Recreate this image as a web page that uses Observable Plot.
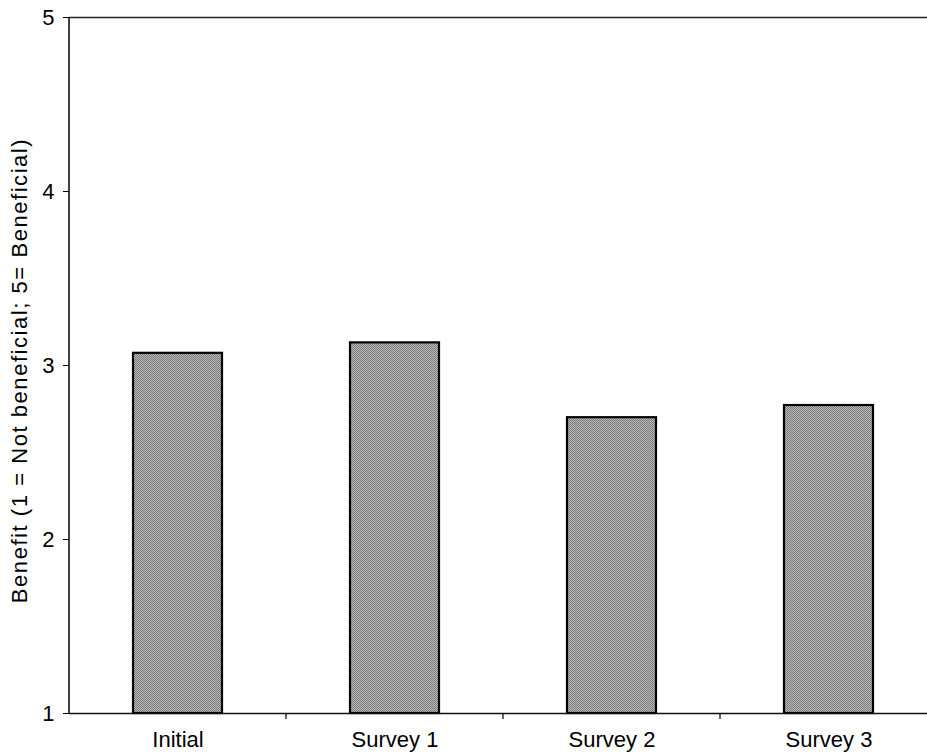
<!DOCTYPE html>
<html>
<head>
<meta charset="utf-8">
<script src="https://cdn.jsdelivr.net/npm/d3@7"></script>
<script src="https://cdn.jsdelivr.net/npm/@observablehq/plot@0.6"></script>
<style>
  html, body { margin: 0; padding: 0; background: #fff; overflow: hidden; }
  #chart { width: 927px; height: 755px; overflow: hidden; }
  #chart svg { max-width: none !important; height: 755px !important; font-family: "Liberation Sans", Arial, sans-serif; }
</style>
</head>
<body>
<div id="chart"></div>
<script>
const categories = ["Initial", "Survey 1", "Survey 2", "Survey 3"];
const benefit = [3.07, 3.13, 2.70, 2.77];
const yTicks = [1, 2, 3, 4, 5];
const yLabel = "Benefit (1 = Not beneficial; 5= Beneficial)";

const data = categories.map((c, i) => ({category: c, value: benefit[i]}));

const chart = Plot.plot({
  width: 937,
  height: 755,
  marginLeft: 69,
  marginRight: 0,
  marginTop: 17,
  marginBottom: 42,
  style: {background: "#fff", fontFamily: "Liberation Sans, Arial, sans-serif", color: "#000", maxWidth: "none"},
  x: {domain: categories, paddingInner: 0.59, paddingOuter: 0.295, label: null},
  y: {domain: [1, 5], label: null},
  marks: [
    Plot.barY(data, {x: "category", y1: 1, y2: "value", fill: "url(#halftone)", stroke: "#000", strokeWidth: 2.2}),
    Plot.ruleY([5], {stroke: "#222", strokeWidth: 1.5}),
    Plot.ruleY([1], {stroke: "#111", strokeWidth: 1.5}),
    Plot.axisY({ticks: yTicks, tickSize: 6, tickPadding: 9, fontSize: 22, label: null, tickFormat: d3.format("d")}),
    Plot.axisX({tickSize: 0, tickPadding: 18, fontSize: 22, label: null}),
    Plot.text([yLabel], {frameAnchor: "left", textAnchor: "middle", rotate: -90, dx: -50, dy: 5, fontSize: 22, text: d => d})
  ]
});

const svg = d3.select(chart);
svg.selectAll("text").filter(function() { return this.textContent === yLabel; }).style("letter-spacing", "1.55px");

// Halftone pattern definition
const defs = svg.insert("defs", ":first-child");
const pat = defs.append("pattern").attr("id", "halftone").attr("width", 2).attr("height", 2).attr("patternUnits", "userSpaceOnUse");
pat.append("rect").attr("width", 2).attr("height", 2).attr("fill", "#bababa");
pat.append("rect").attr("width", 1).attr("height", 1).attr("fill", "#7a7a7a");
pat.append("rect").attr("x", 1).attr("y", 1).attr("width", 1).attr("height", 1).attr("fill", "#7a7a7a");

// X tick marks at band boundaries, using the chart's own x scale
const xs = chart.scale("x");
const ys = chart.scale("y");
const step = xs.step;
const bandStart = c => xs.apply(c) - (step - xs.bandwidth) / 2;
const y1 = ys.apply(1);
categories.slice(1).forEach(c => {
  const bx = bandStart(c);
  svg.append("line").attr("x1", bx).attr("x2", bx).attr("y1", y1).attr("y2", y1 + 6).attr("stroke", "#111").attr("stroke-width", 1.3);
});
// Y axis line at left edge of the plot area
const x0 = bandStart(categories[0]);
svg.append("line").attr("x1", x0).attr("x2", x0).attr("y1", ys.apply(5)).attr("y2", y1).attr("stroke", "#111").attr("stroke-width", 1.6);

document.getElementById("chart").appendChild(chart);
</script>
</body>
</html>
